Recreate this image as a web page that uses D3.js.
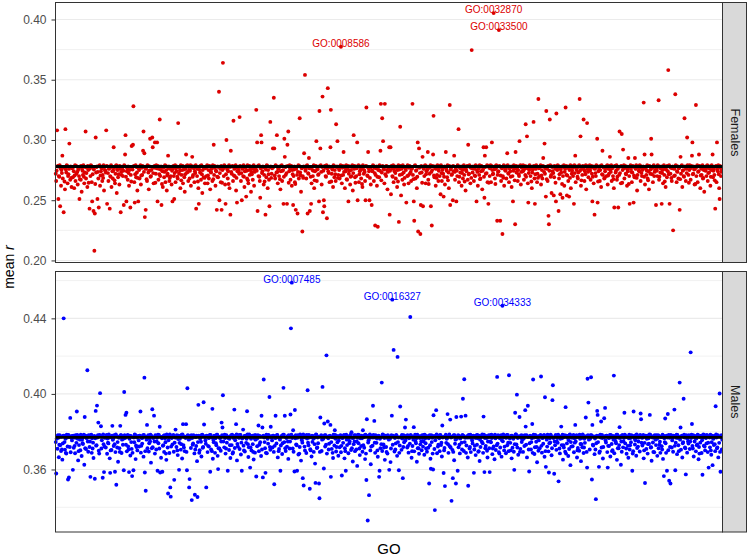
<!DOCTYPE html>
<html><head><meta charset="utf-8">
<script src="https://cdn.jsdelivr.net/npm/d3@7"></script>
<style>body{margin:0;background:#fff}text{font-family:"Liberation Sans",Arial,Helvetica,sans-serif}</style>
</head><body>
<svg id="chart" width="749" height="558"></svg>
<script>
// mean r per GO term, in GO order (Females panel)
const femalesMeanR = [
.272,.266,.2745,.308,.278,.2785,.251,.27,.2695,.279,.245,.2765,.262,.275,.2725,.287,.268,.2775,.24,.277,.2655,.259,.309,.2755,.273,.279,.2785,.264,.27,.2715,.276,.297,.2775,.267,.278,.2685,.261,.2765,
.277,.269,.2775,.274,.26,.2705,.279,.266,.2785,.272,.278,.2735,.263,.275,.2765,.27,.251,.2675,.278,.267,.2785,.257,.276,.2745,.271,.279,.2695,.264,.273,.2775,.307,.268,.2725,.277,.261,.2785,.275,.2645,
.276,.243,.2765,.27,.279,.2785,.265,.249,.2715,.277,.241,.2755,.208,.239,.2635,.302,.273,.2775,.278,.251,.2735,.268,.244,.2785,.279,.262,.2705,.274,.277,.2765,.266,.271,.2685,.279,.258,.2775,.275,.2745,
.273,.308,.2785,.247,.278,.2725,.266,.276,.2765,.243,.27,.2695,.279,.261,.2775,.274,.268,.2745,.294,.277,.2665,.264,.272,.2785,.279,.256,.2755,.275,.269,.2715,.278,.263,.2785,.276,.24,.2735,.271,.2775,
.276,.27,.2745,.246,.279,.2785,.288,.304,.2695,.249,.274,.2765,.267,.278,.2725,.262,.275,.2775,.244,.271,.2655,.295,.277,.2755,.296,.328,.2785,.265,.248,.2715,.279,.269,.2775,.273,.258,.2685,.249,.2765,
.275,.268,.2775,.279,.263,.2705,.277,.271,.2785,.291,.307,.2735,.289,.236,.2765,.242,.276,.2675,.266,.279,.2785,.273,.259,.2745,.278,.301,.2695,.27,.275,.2775,.302,.294,.2725,.264,.277,.2785,.298,.2645,
.272,.279,.2765,.298,.249,.2785,.267,.276,.2715,.317,.27,.2755,.278,.246,.2635,.274,.261,.2775,.277,.269,.2735,.279,.265,.2785,.275,.258,.2705,.272,.287,.2765,.278,.266,.2685,.276,.27,.2775,.263,.2745,
.249,.276,.2785,.27,.251,.2725,.279,.265,.2765,.274,.278,.2695,.268,.314,.2775,.272,.277,.2745,.26,.279,.2665,.271,.275,.2785,.264,.278,.2755,.269,.257,.2715,.276,.288,.2785,.273,.279,.2735,.266,.2775,
.275,.268,.2745,.279,.262,.2785,.277,.286,.2695,.271,.278,.2765,.265,.274,.2725,.279,.243,.2775,.27,.276,.2655,.26,.247,.2755,.278,.273,.2785,.267,.279,.2715,.256,.275,.2775,.269,.277,.2685,.264,.2765,
.277,.27,.2775,.279,.264,.2705,.275,.268,.2785,.278,.259,.2735,.273,.276,.2765,.266,.279,.2675,.296,.271,.2785,.277,.262,.2745,.274,.242,.2695,.278,.269,.2775,.34,.25,.2725,.276,.265,.2785,.242,.2645,
.275,.364,.2765,.27,.279,.2785,.263,.247,.2715,.3,.277,.2755,.268,.274,.2635,.279,.26,.2775,.238,.291,.2735,.272,.278,.2785,.266,.316,.2705,.276,.27,.2765,.279,.258,.2685,.248,.274,.2775,.277,.2745,
.272,.319,.2785,.278,.266,.2725,.25,.276,.2765,.27,.279,.2695,.261,.274,.2775,.277,.253,.2745,.268,.279,.2665,.264,.275,.2785,.271,.278,.2755,.257,.273,.2715,.276,.267,.2785,.279,.262,.2735,.275,.2775,
.276,.325,.2745,.298,.241,.2785,.27,.279,.2695,.266,.252,.2765,.304,.298,.2725,.274,.278,.2775,.263,.271,.2655,.277,.238,.2755,.269,.279,.2785,.26,.275,.2715,.267,.245,.2775,.315,.278,.2685,.272,.2765,
.277,.293,.2775,.335,.293,.2705,.268,.279,.2785,.273,.304,.2735,.264,.276,.2765,.27,.278,.2675,.259,.274,.2785,.279,.266,.2745,.275,.247,.2695,.301,.286,.2775,.271,.278,.2725,.247,.296,.2785,.307,.2645,
.274,.279,.2765,.267,.277,.2785,.262,.275,.2715,.246,.27,.2755,.278,.265,.2635,.242,.276,.2775,.271,.239,.2735,.279,.268,.2785,.318,.273,.2705,.257,.277,.2765,.224,.27,.2685,.278,.289,.2775,.354,.2745,
.276,.268,.2785,.279,.239,.2725,.272,.285,.2765,.241,.277,.2695,.247,.264,.2775,.275,.27,.2745,.279,.26,.2665,.274,.278,.2785,.299,.266,.2755,.276,.271,.2715,.249,.324,.2785,.293,.279,.2735,.263,.2775,
.336,.24,.2745,.25,.245,.2785,.277,.27,.2695,.279,.235,.2765,.343,.274,.2725,.278,.265,.2775,.294,.325,.2655,.272,.276,.2755,.261,.279,.2785,.269,.275,.2715,.266,.313,.2775,.278,.299,.2685,.271,.2765,
.275,.268,.2775,.279,.3774,.2705,.264,.277,.2785,.271,.29,.2735,.278,.26,.2765,.274,.279,.2675,.267,.276,.2785,.249,.272,.2745,.278,.263,.2695,.275,.27,.2775,.279,.258,.2725,.304,.276,.2785,.269,.2645,
.277,.27,.2765,.298,.25,.2785,.279,.265,.2715,.274,.278,.2755,.268,.276,.2635,.261,.279,.2775,.272,.275,.2735,.266,.25,.2785,.327,.278,.2705,.27,.29,.2765,.274,.25,.2685,.277,.263,.2775,.246,.2745,
.274,.279,.2785,.266,.277,.2725,.229,.271,.2765,.278,.262,.2695,.228,.275,.2775,.269,.279,.2745,.291,.33,.2665,.273,.318,.2785,.299,.276,.2755,.264,.33,.2715,.278,.27,.2785,.275,.259,.2735,.277,.2775,
.294,.238,.2745,.294,.255,.2785,.276,.27,.2695,.279,.265,.2765,.274,.278,.2725,.268,.277,.2775,.261,.275,.2655,.279,.232,.2755,.271,.311,.2785,.254,.276,.2715,.267,.279,.2775,.273,.263,.2685,.277,.2765,
.275,.248,.2775,.27,.279,.2705,.264,.277,.2785,.272,.278,.2735,.266,.276,.2765,.33,.271,.2675,.249,.233,.2785,.279,.268,.2745,.275,.26,.2695,.298,.224,.2775,.293,.277,.2725,.222,.246,.2785,.273,.2645,
.286,.245,.2765,.276,.27,.2785,.279,.264,.2715,.274,.278,.2755,.29,.267,.2635,.277,.272,.2775,.279,.245,.2735,.229,.275,.2785,.288,.32,.2705,.269,.278,.2765,.262,.276,.2685,.271,.279,.2775,.266,.2745,
.277,.27,.2785,.255,.279,.2725,.266,.275,.2765,.272,.253,.2695,.278,.263,.2775,.29,.276,.2745,.269,.279,.2665,.273,.26,.2785,.329,.246,.2755,.277,.271,.2715,.278,.25,.2785,.274,.287,.2735,.267,.2775,
.276,.249,.2745,.27,.279,.2785,.309,.265,.2695,.277,.273,.2765,.278,.262,.2725,.275,.268,.2775,.279,.271,.2655,.276,.258,.2755,.274,.278,.2785,.267,.296,.2715,.272,.279,.2775,.264,.277,.2685,.3746,.2765,
.273,.278,.2775,.266,.276,.2705,.27,.279,.2785,.249,.275,.2735,.262,.277,.2765,.271,.279,.2675,.268,.274,.2785,.278,.259,.2745,.276,.294,.2695,.252,.287,.2775,.272,.294,.2725,.279,.265,.2785,.247,.2645,
.277,.27,.2765,.279,.265,.2785,.298,.275,.2715,.272,.4053,.2755,.278,.268,.2635,.276,.279,.2775,.233,.271,.2735,.274,.3912,.2785,.278,.233,.2705,.266,.277,.2765,.222,.27,.2685,.279,.262,.2775,.275,.2745,
.276,.268,.2785,.289,.279,.2725,.272,.265,.2765,.277,.274,.2695,.278,.261,.2775,.27,.249,.2745,.279,.276,.2665,.23,.29,.2785,.273,.278,.2755,.266,.275,.2715,.27,.299,.2785,.279,.263,.2735,.277,.2775,
.274,.279,.2745,.267,.276,.2785,.271,.313,.2695,.278,.303,.2765,.264,.248,.2725,.275,.279,.2775,.27,.277,.2655,.26,.273,.2755,.278,.315,.2785,.268,.247,.2715,.276,.279,.2775,.265,.272,.2685,.334,.2765,
.277,.27,.2775,.279,.263,.2705,.275,.268,.2785,.285,.278,.2735,.297,.272,.2765,.253,.324,.2675,.276,.266,.2785,.237,.23,.2745,.317,.279,.2695,.271,.256,.2775,.274,.278,.2725,.254,.269,.2785,.276,.2645,
.249,.322,.2765,.275,.279,.2785,.241,.268,.2715,.277,.255,.2755,.273,.278,.2635,.252,.27,.2775,.279,.262,.2735,.276,.327,.2785,.271,.254,.2705,.278,.266,.2765,.253,.275,.2685,.279,.26,.2775,.272,.2745,
.277,.27,.2785,.247,.279,.2725,.287,.265,.2765,.275,.278,.2695,.268,.273,.2775,.279,.334,.2745,.303,.262,.2665,.276,.271,.2785,.278,.317,.2755,.266,.274,.2715,.279,.259,.2785,.314,.276,.2735,.269,.2775,
.275,.279,.2745,.267,.277,.2785,.272,.249,.2695,.278,.264,.2765,.238,.276,.2725,.27,.279,.2775,.301,.248,.2655,.274,.278,.2755,.266,.275,.2785,.261,.279,.2715,.291,.271,.2775,.277,.268,.2685,.274,.2765,
.278,.27,.2775,.279,.263,.2705,.276,.272,.2785,.286,.275,.2735,.279,.266,.2765,.277,.27,.2675,.26,.244,.2785,.278,.273,.2745,.279,.267,.2695,.276,.244,.2775,.271,.307,.2725,.278,.264,.2785,.305,.2645,
.275,.292,.2765,.279,.268,.2785,.277,.272,.2715,.278,.262,.2755,.274,.285,.2635,.27,.247,.2775,.279,.276,.2735,.265,.273,.2785,.278,.248,.2705,.269,.285,.2765,.276,.279,.2685,.258,.271,.2775,.277,.2745,
.274,.279,.2785,.266,.277,.2725,.27,.275,.2765,.278,.331,.2695,.288,.263,.2775,.276,.271,.2745,.279,.268,.2665,.274,.259,.2785,.278,.272,.2755,.301,.288,.2715,.277,.265,.2785,.279,.27,.2735,.275,.2775,
.246,.276,.2745,.27,.279,.2785,.333,.267,.2695,.277,.273,.2765,.278,.247,.2725,.275,.264,.2775,.279,.271,.2655,.276,.261,.2755,.278,.269,.2785,.274,.358,.2715,.279,.247,.2775,.272,.277,.2685,.266,.2765,
.278,.225,.2775,.27,.276,.2705,.338,.279,.2785,.265,.274,.2735,.278,.268,.2765,.277,.242,.2675,.286,.272,.2785,.279,.261,.2745,.275,.27,.2695,.318,.278,.2775,.266,.276,.2725,.302,.279,.2785,.271,.2645,
.275,.279,.2765,.267,.277,.2785,.287,.298,.2715,.272,.278,.2755,.263,.276,.2635,.329,.27,.2775,.279,.265,.2735,.274,.288,.2785,.278,.26,.2705,.276,.271,.2765,.279,.268,.2685,.275,.257,.2775,.277,.2745,
.276,.27,.2785,.279,.266,.2725,.277,.273,.2765,.278,.262,.2695,.275,.279,.2775,.288,.269,.2745,.276,.271,.2665,.243,.278,.2785,.265,.298,.2755,.274,.279,.2715,.26,.251,.2785,.277,.27,.2735,.275,.2775
];
// mean r per GO term, in GO order (Males panel)
const malesMeanR = [
.3745,.3579,.3762,.3776,.371,.3781,.3768,.3665,.3731,.3782,.3728,.3774,.3698,.3774,.3706,.3652,.3738,.3779,.44,.3779,.3745,.3705,.3762,.3688,.3684,.3784,.3769,.3722,.3547,.3783,.3558,.3771,.3719,.3873,.3691,.3776,.3766,.3754,
.3778,.3598,.3779,.3715,.3769,.3725,.3686,.3781,.3768,.3741,.3907,.3783,.3763,.3648,.3697,.3729,.3776,.3758,.3702,.3784,.3775,.3671,.3758,.3739,.3735,.3772,.3784,.3625,.3878,.3712,.3779,.3708,.3766,.3766,.4125,.3748,.3694,.3781,
.3773,.3719,.3748,.3561,.3782,.3784,.3688,.3765,.3711,.3742,.3661,.3773,.3777,.3551,.3765,.391,.3726,.3728,.3938,.3769,.3781,.3848,.3699,.3684,.3783,.4004,.3777,.3829,.3711,.3755,.3775,.3556,.3786,.3734,.3586,.3721,.3768,.3769,
.3716,.3779,.3783,.3683,.3764,.3742,.3738,.3785,.3769,.3659,.3582,.3701,.3771,.3703,.3779,.3831,.3757,.3763,.3724,.3781,.3734,.3588,.3692,.3785,.3519,.3776,.3716,.3745,.3641,.3774,.3768,.3713,.3693,.3831,.3782,.3782,.3687,.3758,
.3774,.3731,.3762,.3596,.401,.3781,.3767,.3889,.3731,.39,.3696,.3774,.3783,.3722,.3706,.3586,.3762,.3779,.3674,.3778,.3745,.3709,.3565,.3688,.3771,.3596,.3769,.3744,.3785,.3783,.3655,.3727,.3719,.3769,.3701,.3776,.3776,.3754,
.3722,.3779,.3779,.3907,.3689,.3725,.3766,.3737,.3768,.3782,.3668,.3783,.4086,.3584,.3697,.3487,.3774,.3758,.3836,.3712,.3775,.3781,.3695,.3739,.3763,.3748,.3784,.3636,.3777,.3712,.3919,.3718,.3766,.3769,.3885,.3748,.3684,.3781,
.3775,.3706,.3748,.3768,.3593,.3784,.3739,.3783,.3711,.3826,.3584,.3773,.3662,.3771,.3765,.3588,.3725,.3728,.3779,.3693,.3781,.3764,.3744,.3684,.3651,.3785,.3777,.3716,.3473,.3755,.3772,.3687,.3786,.3505,.3456,.3721,.3767,.3769,
.3733,.3778,.3783,.3694,.3545,.3742,.3769,.3811,.3769,.3719,.3782,.3701,.3676,.3761,.3779,.3598,.3741,.3763,.3776,.3705,.3734,.3784,.3658,.3785,.384,.3729,.3716,.3773,.3697,.3774,.3766,.384,.3693,.3596,.403,.3782,.3779,.3758,
.3505,.3549,.3762,.3775,.3714,.3781,.3438,.3767,.3731,.3738,.3782,.3774,.3685,.3466,.3706,.3771,.3724,.3779,.3644,.3454,.3745,.3942,.3779,.3688,.3702,.3763,.3769,.3747,.3669,.3783,.3784,.3715,.3719,.3956,.3838,.3776,.3772,.3754,
.3736,.3505,.3779,.3778,.3692,.3725,.3766,.3721,.3768,.3783,.3588,.3783,.3706,.3771,.3697,.3921,.3657,.3758,.3744,.3779,.3775,.3688,.3765,.3739,.3728,.3784,.3784,.3672,.3602,.3712,.3774,.3711,.3766,.3768,.3699,.3748,.3848,.3781,
.3822,.3993,.3748,.3779,.3717,.3784,.3767,.3684,.3711,.3782,.3742,.3773,.3593,.3771,.3765,.3703,.3763,.3728,.3661,.3778,.3781,.3729,.3784,.3684,.3691,.3766,.3777,.3917,.3714,.3755,.3773,.384,.3786,.3648,.3735,.3721,.3781,.3769,
.3768,.3708,.3783,.3783,.3679,.3742,.3593,.3764,.3769,.3811,.3726,.3701,.3777,.3695,.3779,.3769,.3741,.3763,.3908,.3785,.3734,.3666,.3718,.3785,.3772,.361,.3716,.3762,.3701,.3774,.3779,.3734,.3693,.3653,.3767,.3782,.3689,.3758,
.3781,.3563,.3762,.3723,.3766,.3781,.3833,.3697,.3731,.3778,.3744,.3774,.3671,.3884,.3706,.3822,.3558,.3779,.4076,.3769,.3745,.3712,.3582,.3688,.3784,.3686,.3769,.3763,.3737,.3783,.3775,.3984,.3719,.3704,.3826,.3776,.3768,.3754,
.3716,.3779,.3779,.3693,.3522,.3725,.3767,.3884,.3768,.3738,.3782,.3783,.3664,.3771,.3697,.3709,.3765,.3758,.3593,.3727,.3775,.3778,.3682,.3739,.3784,.4032,.3784,.3745,.3884,.3712,.3698,.3769,.3766,.3721,.3776,.3748,.3656,.3781,
.3773,.3711,.3748,.3891,.4347,.3784,.4589,.3766,.3711,.3808,.3694,.3773,.3589,.3915,.3765,.3781,.3733,.3728,.3593,.3768,.3781,.3679,.3777,.3684,.3719,.3785,.3777,.3647,.3762,.3755,.3742,.3554,.3786,.3515,.3771,.3721,.3701,.3769,
.3779,.3687,.3783,.3764,.4019,.3742,.3728,.3783,.3769,.3498,.3707,.3701,.3772,.3669,.3779,.3746,.3777,.3763,.3693,.3766,.3734,.3631,.3529,.3785,.3784,.3714,.3716,.3769,.3739,.3774,.3526,.3448,.3693,.3875,.3775,.3782,.3698,.3758,
.4037,.3768,.3762,.3605,.3843,.3781,.3722,.3781,.3731,.4204,.3684,.3774,.3854,.3765,.3706,.3736,.3778,.3779,.3836,.3561,.3745,.3709,.3771,.3688,.3661,.3784,.3769,.3727,.3808,.3783,.3763,.3695,.3719,.3776,.3744,.3776,.3673,.3754,
.3769,.3718,.3779,.3782,.3691,.3725,.3568,.3766,.3768,.3741,.3777,.3783,.3659,.3712,.3697,.3593,.3784,.3758,.3729,.3771,.3775,.3686,.3763,.3739,.3748,.3779,.3784,.3703,.3797,.3712,.3767,.3642,.3766,.3734,.3782,.3748,.3697,.3781,
.3774,.3706,.3748,.3619,.3768,.3784,.3739,.3783,.3711,.3676,.3765,.3773,.3724,.3779,.3765,.3694,.3808,.3728,.3771,.3715,.3781,.3655,.3784,.3684,.3544,.3866,.3777,.333,.3743,.3755,.3464,.3767,.3786,.3701,.3628,.3721,.3778,.3769,
.3726,.3937,.3783,.3769,.3857,.3742,.3688,.3782,.3769,.3741,.3764,.3701,.3667,.3776,.3779,.3561,.3593,.3763,.3713,.3771,.3734,.406,.3698,.3785,.3784,.3732,.3716,.3766,.3651,.3774,.3779,.3719,.3693,.3768,.3684,.3782,.3774,.3758,
.3598,.3772,.3762,.3639,.3711,.3781,.3885,.4499,.3731,.3779,.4233,.3774,.3695,.3766,.3706,.3738,.3783,.3779,.3672,.4196,.3745,.3769,.3596,.3688,.3727,.3933,.3769,.3775,.3704,.3783,.3764,.3554,.3719,.3781,.3744,.3776,.3822,.3754,
.3864,.3768,.3779,.3716,.3782,.3725,.3689,.3765,.3768,.3737,.4407,.3783,.3777,.3662,.3697,.3724,.3771,.3758,.3824,.3696,.3775,.3784,.3748,.3739,.3765,.3641,.3784,.3712,.3779,.3712,.3683,.3769,.3766,.3733,.3776,.3748,.3702,.3781,
.3767,.3721,.3748,.3783,.3678,.3784,.3764,.3739,.3711,.3778,.3694,.3773,.3771,.3715,.3765,.3526,.3782,.3728,.3657,.3604,.3781,.3745,.3768,.3684,.36,.3887,.3777,.3708,.3385,.3755,.3774,.3914,.3786,.3686,.3779,.3721,.3731,.3769,
.3765,.3697,.3783,.3781,.3729,.3742,.3669,.3833,.3769,.3772,.3581,.3701,.3714,.3512,.3779,.3784,.3741,.3763,.3766,.3893,.3734,.3688,.3777,.3785,.3723,.3864,.3716,.3769,.3434,.3774,.3704,.3554,.3693,.3782,.3649,.3782,.3736,.3758,
.3526,.3878,.3762,.3771,.3593,.3781,.3717,.3779,.3731,.3685,.3764,.3774,.388,.3742,.3706,.3783,.3974,.3779,.3698,.4078,.3745,.3768,.3885,.3688,.3727,.3776,.3769,.3663,.3514,.3783,.3769,.3711,.3719,.3784,.3692,.3776,.3765,.3754,
.3738,.3777,.3779,.3582,.3706,.3725,.3768,.3676,.3768,.3782,.3731,.3783,.3765,.3694,.3697,.3779,.3645,.3758,.3719,.3772,.3775,.3747,.3785,.3739,.3688,.388,.3784,.3586,.3766,.3712,.3725,.3778,.3766,.3699,.3663,.3748,.3771,.3781,
.3712,.3586,.3748,.3781,.3744,.3784,.3767,.3681,.3711,.3776,.3722,.3773,.3654,.3784,.3765,.3703,.3769,.3728,.409,.3737,.3781,.3778,.3692,.3684,.3765,.3716,.3777,.3782,.3668,.3755,.4467,.3749,.3786,.3771,.3701,.3721,.3776,.3769,
.3686,.3768,.3783,.3728,.3783,.3742,.3697,.4099,.3769,.3764,.3741,.3701,.3779,.3659,.3779,.3715,.3772,.3763,.3694,.3598,.3734,.39,.3785,.3785,.3732,.3996,.3716,.3767,.3678,.3774,.3776,.3878,.3693,.3709,.3769,.3782,.3745,.3758,
.3779,.3693,.3762,.3766,.3724,.3781,.3914,.3827,.3731,.3782,.3664,.3774,.3937,.3771,.3706,.3589,.3739,.3779,.3777,.3706,.3745,.3765,.3841,.3688,.4076,.3784,.3769,.3682,.3718,.3783,.3772,.3747,.3719,.3638,.3768,.3776,.3699,.3754,
.3775,.3712,.3779,.3783,.4092,.3725,.3689,.3766,.3768,.3736,.3779,.3783,.3667,.3982,.3697,.3614,.3771,.3758,.3721,.3784,.3775,.3696,.3584,.3739,.3765,.3743,.3784,.3778,.3675,.3712,.3967,.4046,.3766,.3769,.3577,.3748,.3728,.3781,
.3781,.3704,.3748,.3767,.3741,.3784,.3537,.3776,.3711,.3685,.3763,.3773,.3827,.3729,.3765,.3784,.3652,.3728,.3716,.3772,.3781,.3694,.393,.3684,.3779,.3738,.3777,.3766,.3671,.3755,.3708,.3783,.3786,.3623,.3745,.3721,.3769,.3769,
.3723,.3777,.3783,.3691,.3765,.3742,.3836,.3748,.3769,.3782,.3663,.3701,.3714,.3771,.3779,.3699,.3784,.3763,.3735,.3644,.3734,.3767,.3718,.3785,.3779,.3687,.3716,.3763,.3741,.3774,.3875,.3776,.3693,.361,.408,.3782,.3954,.3758,
.3769,.3706,.3762,.3782,.4088,.3781,.3547,.3836,.3731,.3727,.3775,.3774,.3681,.3764,.3706,.3443,.3739,.3779,.391,.3889,.3745,.3778,.3614,.3688,.3696,.3784,.3769,.3854,.3716,.3783,.3767,.3658,.3719,.3772,.3871,.3776,.3926,.3754,
.3743,.3779,.3779,.3692,.361,.3725,.3766,.3724,.3768,.3783,.3669,.3783,.3771,.3735,.3697,.3702,.3777,.3758,.4097,.3686,.3775,.3765,.3748,.3739,.3784,.3651,.3784,.3712,.3769,.3712,.3729,.3824,.3766,.3776,.3625,.3748,.3694,.3781,
.3781,.3717,.3748,.3766,.39,.3784,.3738,.3778,.3711,.3683,.3771,.3773,.3725,.3662,.3765,.3784,.3706,.3728,.3767,.3744,.3781,.3779,.3593,.3684,.3697,.3907,.3777,.3765,.3732,.3755,.3782,.3673,.3786,.3714,.3769,.3721,.3748,.3769,
.3776,.3695,.3783,.3896,.3866,.3742,.3768,.3727,.3769,.3783,.3659,.3701,.3741,.3528,.3779,.3772,.3709,.3763,.3779,.3684,.3734,.3765,.3736,.3785,.3889,.3784,.3716,.3718,.3646,.3774,.3769,.3743,.3693,.3777,.3691,.3782,.3764,.3758,
.3729,.3781,.3762,.3672,.3766,.3781,.3712,.3778,.3731,.3747,.3688,.3774,.3771,.3723,.3706,.3784,.3656,.3779,.3565,.3765,.3745,.387,.3739,.3688,.3779,.3593,.3769,.3894,.3702,.3783,.354,.3768,.3719,.3526,.3783,.3776,.3716,.3754,
.3767,.3694,.3779,.3778,.3917,.3725,.3596,.3742,.3768,.3784,.3681,.3783,.3766,.3728,.3697,.3772,.406,.3758,.3822,.3705,.3775,.3779,.3663,.3739,.3745,.3974,.3784,.3769,.3716,.3712,.3574,.3782,.3766,.3689,.3764,.3748,.3737,.3781,
.3775,.3708,.3748,.422,.3766,.3784,.3841,.3724,.3711,.3781,.3669,.3773,.3748,.3777,.3765,.3696,.3764,.3728,.3733,.3784,.3781,.3654,.3719,.3684,.3771,.3742,.3777,.3779,.3687,.3755,.3572,.3768,.3786,.3726,.3783,.3721,.3701,.3769,
.3766,.3738,.3783,.3779,.3692,.3742,.361,.3771,.3769,.3717,.3784,.3701,.3678,.3744,.3779,.3623,.3765,.3763,.3729,.3777,.3734,.3697,.3935,.3785,.3769,.3712,.3716,.3782,.3664,.3774,.3741,.4002,.3693,.3588,.3772,.3782,.3706,.3758
];
// labelled GO terms: [term, mean r]
const femalesLabels = [["GO:0008586", .3774], ["GO:0032870", .4053], ["GO:0033500", .3912]];
const malesLabels = [["GO:0007485", .4589], ["GO:0016327", .4499], ["GO:0034333", .4467]];
// overall mean (horizontal line)
const femalesMean = 0.278;
const malesMean = 0.377;
// axis limits and ticks
const femalesDomain = [0.1983, 0.4141];
const malesDomain = [0.3269, 0.4648];
const femalesTicks = [0.20, 0.25, 0.30, 0.35, 0.40];
const malesTicks = [0.36, 0.40, 0.44];
const femalesMinor = [0.225, 0.275, 0.325, 0.375];
const malesMinor = [0.34, 0.38, 0.42, 0.46];
const panelNames = ["Females", "Males"];

const svg = d3.select("#chart");
const L = 55.5, R = 722.5, stripW = 24;
const panels = [
  {name: panelNames[0], values: femalesMeanR, labels: femalesLabels, mean: femalesMean, domain: femalesDomain,
   ticks: femalesTicks, minor: femalesMinor, color: "#dc0000", top: 2.5, bottom: 262.5},
  {name: panelNames[1], values: malesMeanR, labels: malesLabels, mean: malesMean, domain: malesDomain,
   ticks: malesTicks, minor: malesMinor, color: "#0000ff", top: 271.5, bottom: 532}
];

panels.forEach(p => {
  const x = d3.scalePoint().domain(d3.range(p.values.length)).range([L, R]).padding(0.6);
  const y = d3.scaleLinear().domain(p.domain).range([p.bottom, p.top]);
  const g = svg.append("g");
  g.append("rect").attr("x", L).attr("y", p.top).attr("width", R - L).attr("height", p.bottom - p.top).attr("fill", "#fff");
  g.selectAll(".minor").data(p.minor).join("line").attr("class", "minor")
    .attr("x1", L).attr("x2", R).attr("y1", d => y(d)).attr("y2", d => y(d))
    .attr("stroke", "#ebebeb").attr("stroke-width", 0.7);
  g.selectAll(".major").data(p.ticks).join("line").attr("class", "major")
    .attr("x1", L).attr("x2", R).attr("y1", d => y(d)).attr("y2", d => y(d))
    .attr("stroke", "#ebebeb").attr("stroke-width", 1.1);
  g.append("g").selectAll("circle").data(p.values).join("circle")
    .attr("cx", (d, i) => x(i)).attr("cy", d => y(d)).attr("r", 1.95).attr("fill", p.color);
  g.append("line").attr("x1", L).attr("x2", R).attr("y1", y(p.mean)).attr("y2", y(p.mean))
    .attr("stroke", "#000").attr("stroke-width", 2.8);
  g.append("g").selectAll("text").data(p.labels).join("text")
    .attr("x", d => x(p.values.indexOf(d[1]))).attr("y", d => y(d[1]))
    .attr("text-anchor", "middle").attr("font-size", 10).attr("fill", p.color).text(d => d[0]);
  g.append("rect").attr("x", L).attr("y", p.top).attr("width", R - L).attr("height", p.bottom - p.top)
    .attr("fill", "none").attr("stroke", "#333").attr("stroke-width", 1);
  const ax = g.append("g").attr("transform", `translate(${L},0)`)
    .call(d3.axisLeft(y).tickValues(p.ticks).tickFormat(d3.format(".2f")).tickSize(4).tickPadding(5));
  ax.select(".domain").remove();
  ax.selectAll("line").attr("stroke", "#333");
  ax.selectAll("text").attr("fill", "#4d4d4d").attr("font-size", 12)
    .style("font-family", '"Liberation Sans",Arial,Helvetica,sans-serif');
  g.append("rect").attr("x", R).attr("y", p.top).attr("width", stripW).attr("height", p.bottom - p.top)
    .attr("fill", "#d9d9d9").attr("stroke", "#333").attr("stroke-width", 1);
  g.append("text").attr("transform", `translate(${R + stripW / 2},${(p.top + p.bottom) / 2}) rotate(90)`)
    .attr("text-anchor", "middle").attr("dominant-baseline", "central")
    .attr("font-size", 12.5).attr("fill", "#1a1a1a").text(p.name);
});

const yt = svg.append("text").attr("transform", "translate(14,267) rotate(-90)")
  .attr("text-anchor", "middle").attr("font-size", 14).attr("fill", "#000");
yt.append("tspan").text("mean ");
yt.append("tspan").attr("font-style", "italic").text("r");
svg.append("text").attr("x", (L + R) / 2).attr("y", 554).attr("text-anchor", "middle")
  .attr("font-size", 15).attr("fill", "#000").text("GO");
</script>
</body></html>
